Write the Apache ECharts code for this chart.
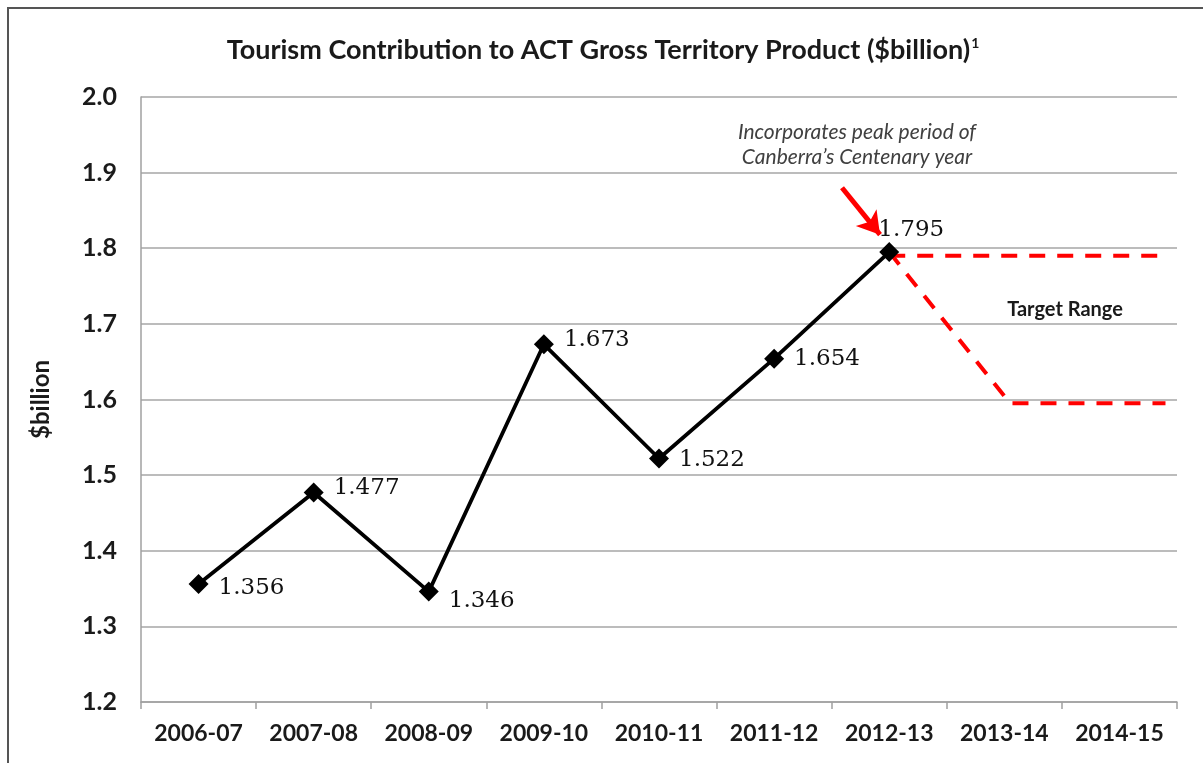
<!DOCTYPE html>
<html><head><meta charset="utf-8">
<script src="https://cdn.jsdelivr.net/npm/echarts@6/dist/echarts.min.js"></script>
<style>html,body{margin:0;padding:0;background:#fff}#c{width:1203px;height:763px}</style>
</head><body><div id="c"></div>
<script>
// ---- data ----
var categories = ['2006-07','2007-08','2008-09','2009-10','2010-11','2011-12','2012-13','2013-14','2014-15'];
var gtpValues = [1.356, 1.477, 1.346, 1.673, 1.522, 1.654, 1.795];
var targetUpper = [[6, 1.79], [8.4, 1.79]];
var targetLower = [[6, 1.795], [7.05, 1.595], [8.4, 1.595]];
var arrowFrom = [5.59, 1.88];
var arrowTo = [5.92, 1.818];
var yTicks = {min: 1.2, max: 2.0, interval: 0.1};

// ---- label placement (style only) ----
var labelPlacement = [
  {position: 'right', offset: [5, 4]},
  {position: 'right', offset: [5, -4]},
  {position: 'right', offset: [5, 9]},
  {position: 'right', offset: [5, -4]},
  {position: 'right', offset: [5, 2]},
  {position: 'right', offset: [5, 0]},
  {position: 'top', offset: [22, 4]}
];

var chart = echarts.init(document.getElementById('c'));
var lineData = gtpValues.map(function (v, i) {
  return {value: v, label: labelPlacement[i]};
});
var boldFont = 'Lato';
chart.setOption({
  animation: false,
  backgroundColor: '#fff',
  title: [
    {
      text: '{a|Tourism Contribution to ACT Gross Territory Product ($billion)}{s|1}',
      left: 598, top: 31, textAlign: 'center',
      textStyle: {
        rich: {
          a: {fontFamily: boldFont, fontWeight: 'bold', fontSize: 27, color: '#1a1a1a'},
          s: {fontFamily: boldFont, fontSize: 14, color: '#1a1a1a', verticalAlign: 'top', padding: [0, 0, 14, 1]}
        }
      }
    },
    {
      text: 'Incorporates peak period of\nCanberra\u2019s Centenary year',
      left: 852, top: 115, textAlign: 'center',
      textStyle: {fontFamily: 'Lato', fontStyle: 'italic', fontWeight: 'normal', fontSize: 21, lineHeight: 25, color: '#404040'}
    },
    {
      text: 'Target Range',
      left: 1060, top: 295, textAlign: 'center',
      textStyle: {fontFamily: boldFont, fontWeight: 'bold', fontSize: 20, color: '#1a1a1a'}
    }
  ],
  graphic: [{
    type: 'rect', silent: true, z: 100,
    shape: {x: 8, y: 8, width: 1260, height: 820},
    style: {fill: 'none', stroke: '#555', lineWidth: 2}
  }],
  grid: {left: 141, right: 26, top: 97, bottom: 61, containLabel: false},
  xAxis: [
    {
      type: 'category', data: categories, boundaryGap: true,
      axisLine: {onZero: false, lineStyle: {color: '#a0a0a0', width: 1.5}},
      axisTick: {show: true, interval: 0, length: 7, lineStyle: {color: '#a0a0a0', width: 1.5}},
      axisLabel: {interval: 0, hideOverlap: false, fontFamily: boldFont, fontWeight: 'bold', fontSize: 23, color: '#1a1a1a', margin: 20},
      splitLine: {show: false}
    },
    {
      type: 'value', min: -0.5, max: 8.5, show: false
    }
  ],
  yAxis: {
    type: 'value', min: yTicks.min, max: yTicks.max, interval: yTicks.interval,
    name: '$billion', nameLocation: 'middle', nameGap: 88, nameRotate: 90,
    nameTextStyle: {fontFamily: boldFont, fontWeight: 'bold', fontSize: 24, color: '#1a1a1a'},
    axisLine: {show: true, onZero: false, lineStyle: {color: '#a0a0a0', width: 1.5}},
    axisTick: {show: false},
    axisLabel: {fontFamily: boldFont, fontWeight: 'bold', fontSize: 25, color: '#1a1a1a', margin: 24,
      formatter: function (v) { return v.toFixed(1); }},
    splitLine: {lineStyle: {color: '#a6a6a6', width: 1.5}}
  },
  series: [
    {
      type: 'line', xAxisIndex: 1,
      data: targetUpper, symbol: 'none', z: 2,
      lineStyle: {color: '#ff0000', width: 4, type: [16, 12]}
    },
    {
      type: 'line', xAxisIndex: 1,
      data: targetLower, symbol: 'none', z: 2,
      lineStyle: {color: '#ff0000', width: 4, type: [16, 12]},
      markLine: {
        silent: true, symbol: ['none', 'arrow'], symbolSize: [20, 22],
        lineStyle: {color: '#ff0000', width: 5, type: 'solid'},
        label: {show: false},
        data: [[{coord: arrowFrom}, {coord: arrowTo}]]
      }
    },
    {
      type: 'line', xAxisIndex: 0, data: lineData, z: 5,
      symbol: 'diamond', symbolSize: 20,
      itemStyle: {color: '#000'},
      lineStyle: {color: '#000', width: 3.8},
      label: {show: true, fontFamily: 'DejaVu Serif', fontSize: 23, color: '#111',
        formatter: function (p) { return p.value.toFixed(3); }}
    }
  ]
});
</script></body></html>
